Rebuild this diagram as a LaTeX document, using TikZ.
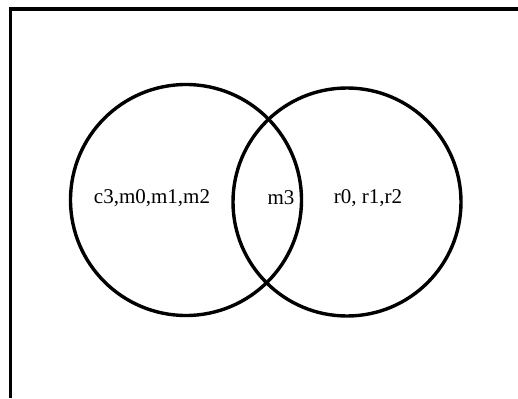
\documentclass[tikz,border=0pt]{standalone}
\usepackage{fontspec}
\setmainfont{Liberation Serif}
\usetikzlibrary{positioning}

\begin{document}
\begin{tikzpicture}[x=1pt,y=-1pt,font=\fontsize{21}{25}\selectfont,
  set/.style={draw,circle,line width=3.4pt,inner sep=0pt},
  lbl/.style={inner sep=1pt}]
\useasboundingbox (0,0) rectangle (518,398);
\coordinate (tl) at (10.5,9);
\coordinate (tr) at (518,9);
\coordinate (bl) at (10.5,398);
\draw[line width=3.4pt] (tr)--(tl)--(bl);
\node[set,minimum size=231pt] (left) at (186,200) {};
\node[set,minimum size=228pt] (right) at (347,202) {};
\node[lbl] (onlyL) at (152,198) {c3,m0,m1,m2};
\node[lbl] (both) at (281,198) {m3};
\node[lbl] (onlyR) at (368,198) {r0, r1,r2};
\end{tikzpicture}
\end{document}
